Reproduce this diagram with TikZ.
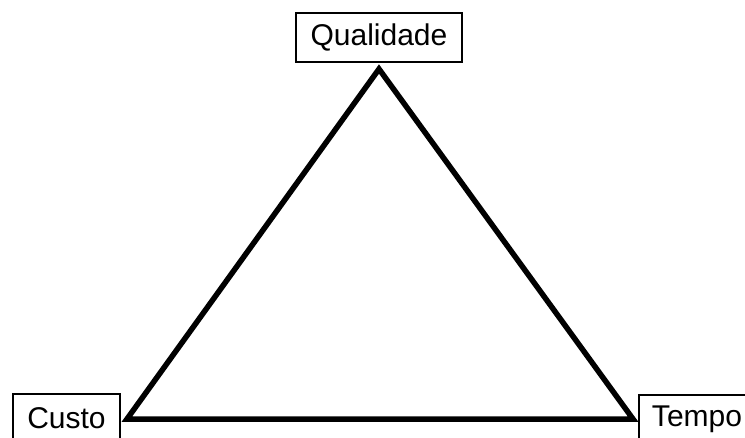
\documentclass[tikz,border=0pt]{standalone}
\usepackage{fontspec}
\setmainfont{Liberation Sans}
\usepackage{tikz}
\usetikzlibrary{positioning,calc}

\begin{document}
\begin{tikzpicture}[x=1pt,y=-1pt,
  label box/.style={draw,line width=1.4pt,inner sep=0pt,minimum height=49pt,
    font=\fontsize{30}{36}\selectfont}]
\useasboundingbox (0,0) rectangle (745,437);
\clip (0,0) rectangle (745,437);
\node (Q) [label box,minimum width=166pt] at (379,37.5) {Qualidade};
\node (C) [label box,minimum width=107pt] at (66.5,418.5) {Custo};
\node (T) [label box,minimum width=116pt] at (697,419.5) {Tempo};
\coordinate (top) at (379,69);
\coordinate (left) at (127,419);
\coordinate (right) at (633,419);
\draw[line width=5.5pt,miter limit=10] (top) -- (left) -- (right) -- cycle;
\end{tikzpicture}
\end{document}
